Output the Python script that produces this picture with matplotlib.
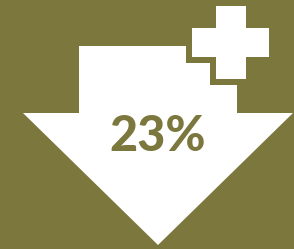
import matplotlib
matplotlib.use("Agg")
import matplotlib.pyplot as plt
from matplotlib.patches import Polygon, Rectangle

# values
value = 23
label = f"{value}%"

olive = "#7B773D"
white = "#FFFFFF"

fig = plt.figure(figsize=(2.94, 2.49), dpi=100)
fig.patch.set_facecolor(olive)
ax = fig.add_axes([0, 0, 1, 1])
ax.set_xlim(0, 294)
ax.set_ylim(249, 0)
ax.axis("off")

# down arrow
arrow = [(79, 46), (237, 46), (237, 113), (293, 113), (158, 245),
         (23, 113), (79, 113)]
ax.add_patch(Polygon(arrow, closed=True, facecolor=white, edgecolor="none"))

# plus sign with olive outline cut into the arrow
pad = 6
vbar = (216, 6, 30, 73)
hbar = (192, 28, 77, 29)
for x, y, w, h in (vbar, hbar):
    ax.add_patch(Rectangle((x - pad, y - pad), w + 2 * pad, h + 2 * pad,
                           facecolor=olive, edgecolor="none"))
for x, y, w, h in (vbar, hbar):
    ax.add_patch(Rectangle((x, y), w, h, facecolor=white, edgecolor="none"))

ax.text(158, 136, label, ha="center", va="center", color=olive,
        fontsize=35, fontweight=900, family="Lato")

fig.savefig("out.png", dpi=100, facecolor=olive)
